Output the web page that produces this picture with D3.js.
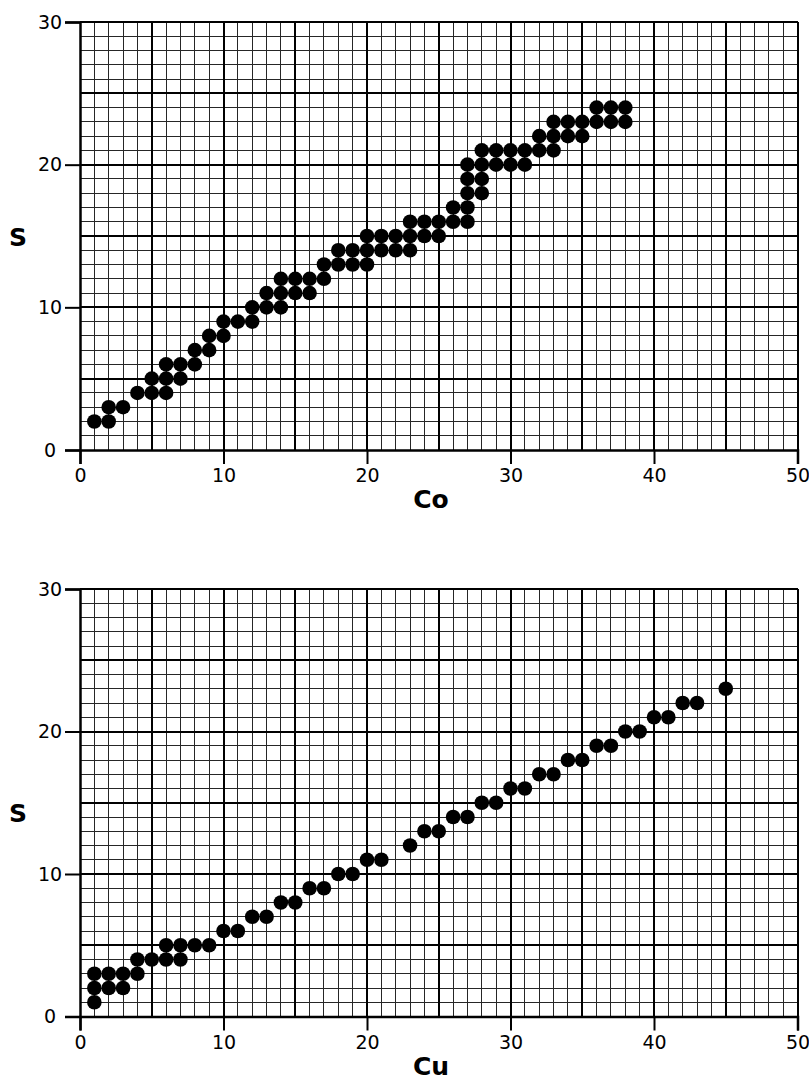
<!DOCTYPE html>
<html>
<head>
<meta charset="utf-8">
<script src="https://cdn.jsdelivr.net/npm/d3@7"></script>
<style>
  html, body { margin: 0; padding: 0; background: #fff; }
  svg { display: block; }
  .tick text { font-family: "DejaVu Sans", sans-serif; font-size: 19px; fill: #000; }
  .title { font-family: "DejaVu Sans", sans-serif; font-weight: bold; font-size: 25px; fill: #000; }
</style>
</head>
<body>
<svg id="chart" width="809" height="1083"></svg>
<script>
// Axis ranges and tick labels
const xDomain = [0, 50];
const yDomain = [0, 30];
const xTicks = [0, 10, 20, 30, 40, 50];
const yTicks = [0, 10, 20, 30];

// Co against S
const coX = [1, 2, 2, 3, 4, 5, 5, 6, 6, 6, 7, 7, 8, 8, 9, 9, 10, 10, 11, 12, 12, 13, 13,
  14, 14, 14, 15, 15, 16, 16, 17, 17, 18, 18, 19, 19, 20, 20, 20, 21, 21, 22, 22,
  23, 23, 23, 24, 24, 25, 25, 26, 26, 27, 27, 27, 27, 27, 28, 28, 28, 28, 29, 29,
  30, 30, 31, 31, 32, 32, 33, 33, 33, 34, 34, 35, 35, 36, 36, 37, 37, 38, 38];
const coS = [2, 2, 3, 3, 4, 4, 5, 4, 5, 6, 5, 6, 6, 7, 7, 8, 8, 9, 9, 9, 10, 10, 11,
  10, 11, 12, 11, 12, 11, 12, 12, 13, 13, 14, 13, 14, 13, 14, 15, 14, 15, 14, 15,
  14, 15, 16, 15, 16, 15, 16, 16, 17, 16, 17, 18, 19, 20, 18, 19, 20, 21, 20, 21,
  20, 21, 20, 21, 21, 22, 21, 22, 23, 22, 23, 22, 23, 23, 24, 23, 24, 23, 24];

// Cu against S
const cuX = [1, 1, 1, 2, 2, 3, 3, 4, 4, 5, 6, 6, 7, 7, 8, 9, 10, 11, 12, 13, 14, 15,
  16, 17, 18, 19, 20, 21, 23, 24, 25, 26, 27, 28, 29, 30, 31, 32, 33, 34, 35, 36,
  37, 38, 39, 40, 41, 42, 43, 45];
const cuS = [1, 2, 3, 2, 3, 2, 3, 3, 4, 4, 4, 5, 4, 5, 5, 5, 6, 6, 7, 7, 8, 8,
  9, 9, 10, 10, 11, 11, 12, 13, 13, 14, 14, 15, 15, 16, 16, 17, 17, 18, 18, 19,
  19, 20, 20, 21, 21, 22, 22, 23];

const panels = [
  { label: "Co", xs: coX, ys: coS, top: 22, bottom: 450, sLabelY: 237 },
  { label: "Cu", xs: cuX, ys: cuS, top: 589, bottom: 1016.5, sLabelY: 813 }
];

const left = 80, right = 797.5;
const svg = d3.select("#chart");

panels.forEach(p => {
  const x = d3.scaleLinear().domain(xDomain).range([left, right]);
  const y = d3.scaleLinear().domain(yDomain).range([p.bottom, p.top]);
  const g = svg.append("g");

  // graph-paper grid: fine lines every unit, heavier every five
  const xs = d3.range(xDomain[0], xDomain[1] + 1);
  const ys = d3.range(yDomain[0], yDomain[1] + 1);
  const grid = g.append("g").attr("shape-rendering", "crispEdges");
  grid.selectAll("line.vminor").data(xs.filter(v => v % 5 !== 0)).join("line")
    .attr("x1", d => x(d)).attr("x2", d => x(d))
    .attr("y1", y(yDomain[0])).attr("y2", y(yDomain[1]))
    .attr("stroke", "#262626").attr("stroke-width", 1);
  grid.selectAll("line.hminor").data(ys.filter(v => v % 5 !== 0)).join("line")
    .attr("y1", d => y(d)).attr("y2", d => y(d))
    .attr("x1", x(xDomain[0])).attr("x2", x(xDomain[1]))
    .attr("stroke", "#262626").attr("stroke-width", 1);
  grid.selectAll("line.vmajor").data(xs.filter(v => v % 5 === 0 && v !== 0)).join("line")
    .attr("x1", d => x(d)).attr("x2", d => x(d))
    .attr("y1", y(yDomain[0])).attr("y2", y(yDomain[1]))
    .attr("stroke", "#000").attr("stroke-width", 2);
  grid.selectAll("line.hmajor").data(ys.filter(v => v % 5 === 0 && v !== 0)).join("line")
    .attr("y1", d => y(d)).attr("y2", d => y(d))
    .attr("x1", x(xDomain[0])).attr("x2", x(xDomain[1]))
    .attr("stroke", "#000").attr("stroke-width", 2);

  // axes
  const xAxis = g.append("g").attr("transform", `translate(0,${y(0)})`)
    .call(d3.axisBottom(x).tickValues(xTicks).tickSize(14).tickPadding(5).tickFormat(d3.format("d")));
  xAxis.select(".domain").attr("stroke", "#000").attr("stroke-width", 2.5);
  xAxis.selectAll(".tick line").attr("stroke", "#000").attr("stroke-width", 2);

  const yAxis = g.append("g").attr("transform", `translate(${x(0)},0)`)
    .call(d3.axisLeft(y).tickValues(yTicks).tickSize(15).tickPadding(5).tickFormat(d3.format("d")));
  yAxis.select(".domain").attr("stroke", "#000").attr("stroke-width", 2.5);
  yAxis.selectAll(".tick line").attr("stroke", "#000").attr("stroke-width", 2);
  yAxis.selectAll(".tick text").attr("text-anchor", "middle").attr("x", -30);

  // data points
  g.append("g").selectAll("circle").data(d3.range(p.xs.length)).join("circle")
    .attr("cx", i => x(p.xs[i])).attr("cy", i => y(p.ys[i]))
    .attr("r", 7.3).attr("fill", "#000");

  // axis titles
  g.append("text").attr("class", "title")
    .attr("x", 431).attr("y", p.bottom + 58)
    .attr("text-anchor", "middle").text(p.label);
  g.append("text").attr("class", "title")
    .attr("x", 18).attr("y", p.sLabelY).attr("dy", "0.36em")
    .attr("text-anchor", "middle").text("S");
});
</script>
</body>
</html>
